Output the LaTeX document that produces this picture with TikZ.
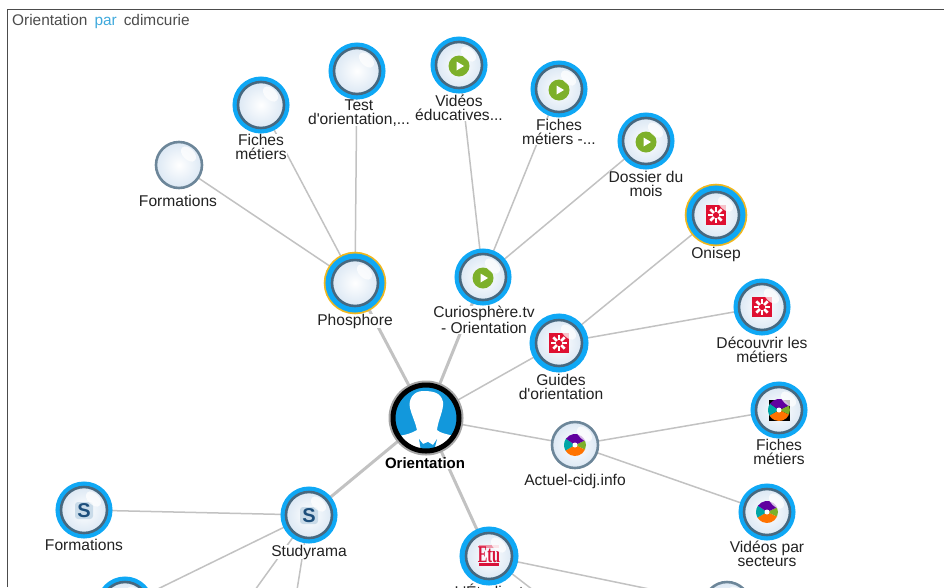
\documentclass[tikz,border=0pt]{standalone}
\usepackage{fontspec}
\setmainfont{Liberation Sans}
\newfontfamily\logofont[FakeStretch=.6]{Liberation Serif}
\usetikzlibrary{backgrounds}
\definecolor{ringblue}{HTML}{0FA8F5}
\definecolor{ringdark}{HTML}{47687F}
\definecolor{ringgold}{HTML}{F0B71E}
\definecolor{spokegray}{HTML}{C2C2C2}
\definecolor{hubblue}{HTML}{1298DC}
\definecolor{inktext}{HTML}{222222}
\definecolor{parblue}{HTML}{3FA9DC}
\definecolor{onisepred}{HTML}{DF1031}
\definecolor{etured}{HTML}{D8123A}
\definecolor{playgreen}{HTML}{7DB02A}
\definecolor{sblue}{HTML}{1D4F7C}
\definecolor{spale}{HTML}{C9DBE9}
\definecolor{bubbleedge}{HTML}{DCE8F4}
\newcommand{\gloss}{\fill[white,opacity=.75] (3.1,-17.4) .. controls (8.3,-22.6) and (21.1,-9.8) .. (15.9,-4.6) .. controls (10.7,0.6) and (-2.1,-12.2) .. (3.1,-17.4) -- cycle;}
\newcommand{\iconplay}{%
	\fill[playgreen] (0,1) circle (10.5);
	\fill[white] (-2.5,-3.5) -- (5,1) -- (-2.5,5.5) -- cycle;}
\newcommand{\icononisep}{%
	\fill[onisepred] (-10,-10) rectangle (10,10);
	\foreach \a in {0,45,...,315}
		\draw[white,line width=2.6pt] (\a:3) -- (\a:8);}
\newcommand{\iconstudy}{%
	\fill[spale,rounded corners=3pt] (-9,-8) rectangle (9,9);
	\node[text=sblue,inner sep=0pt,font=\bfseries\fontsize{20}{20}\selectfont] (studyS) at (0,0.5) {S};}
\newcommand{\iconetu}{%
	\fill[etured!45] (-10,-11) rectangle (10,-8);
	\fill[etured] (-10,7) rectangle (10,10);
	\node[text=etured,inner sep=0pt,font=\logofont\bfseries\fontsize{24}{24}\selectfont] (etuword) at (0,-1) {Etu};}
\newcommand{\iconwheel}{%
	\fill[playgreen] (0,0) -- (-25:11) arc[start angle=-25,end angle=25,radius=11] -- cycle;
	\fill[orange!90!red] (0,0) -- (25:11) arc[start angle=25,end angle=150,radius=11] -- cycle;
	\fill[teal!70!cyan] (0,0) -- (150:11) arc[start angle=150,end angle=215,radius=11] -- cycle;
	\fill[violet!75!blue] (0,0) -- (215:11) arc[start angle=215,end angle=335,radius=11] -- cycle;
	\fill[white] (0,0) circle (2.5);}
\newcommand{\iconwheelbox}{%
	\fill[black] (-10.5,-10.5) rectangle (10.5,10.5);
	\iconwheel}
\tikzset{
	bubble/.style={circle,minimum size=46pt,inner sep=0pt,outer sep=0pt,
		draw=ringdark,line width=2.6pt,inner color=white,outer color=bubbleedge,
		path picture={\begin{scope}[shift={(path picture bounding box.center)}]#1\gloss\end{scope}}},
	ring/.style={preaction={draw=ringblue,line width=11pt}},
	widering/.style={preaction={draw=ringblue,line width=13pt}},
	goldring/.style={preaction={draw=ringgold,line width=16.5pt},preaction={draw=ringblue,line width=13pt}},
	hub/.style={circle,minimum size=66pt,inner sep=0pt,outer sep=0pt,fill=hubblue,
		draw=black,line width=5pt,preaction={draw=gray!70,line width=9pt},
		path picture={\begin{scope}[shift={(path picture bounding box.center)}]\hubicon\end{scope}}},
	caption/.style={align=center,inner sep=0pt,fill=white,text=inktext,
		font=\fontsize{15.6}{14}\selectfont},
	spoke/.style={draw=spokegray,line width=1.5pt},
	mainspoke/.style={draw=spokegray,line width=3pt},
}
\newcommand{\hubicon}{%
	\fill[white] (-3,-27) .. controls (-13,-27) and (-18,-18) .. (-16,-10) .. controls (-14,-2) and (-10,6) .. (-9,12) .. controls (-14,15) and (-20,17) .. (-28,18) -- (-15,36) -- (15,36) -- (28,18) .. controls (20,16) and (14,15) .. (11,12) .. controls (12,2) and (18,-8) .. (17,-16) .. controls (15,-26) and (6,-27) .. (-3,-27) -- cycle;
	\fill[hubblue] (-7,21) -- (-3,26) -- (2,24) -- (7,27) -- (11,21) -- (8,33) -- (-5,33) -- cycle;}
\begin{document}
\begin{tikzpicture}[x=1pt,y=-1pt]
	\useasboundingbox (0,0) rectangle (944,587);
	% frame and title
	\draw[color=black!70,line width=1.5pt] (7.5,587) -- (7.5,9.5) -- (944,9.5);
	\node[anchor=west,inner sep=0pt,text=black!70,font=\fontsize{15.4}{15}\selectfont] (title) at (12,22)
		{Orientation\hspace{7pt}\textcolor{parblue}{par}\hspace{7pt}cdimcurie};
	% labels
	\foreach \name/\x/\y/\txt in {
		lforma/178/201/Formations,
		lfiche/261/147/{Fiches\\métiers},
		ltest/359/113/{Test\\d\textquotesingle orientation,...},
		lvideo/459/108/{Vidéos\\éducatives...},
		lfichetv/559/132/{Fiches\\métiers -...},
		ldossier/646/184/{Dossier du\\mois},
		lonisep/716/254/Onisep,
		lphos/355/321/Phosphore,
		lcurio/484/320/{Curiosphère.tv\\- Orientation},
		lguides/561/387/{Guides\\d\textquotesingle orientation},
		ldecouv/762/350/{Découvrir les\\métiers},
		lfichecidj/779/452/{Fiches\\métiers},
		lactuel/575/481/Actuel-cidj.info,
		lsecteur/767/554/{Vidéos par\\secteurs},
		lstudy/309/552/Studyrama,
		lformb/84/545/Formations,
		letu/489/591/L\textquotesingle Étudiant}
		\node[caption] (\name) at (\x,\y) {\txt};
	\node[caption,font=\bfseries\fontsize{15}{14}\selectfont,text=black] (lhub) at (425,463) {Orientation};
	% first ring
	\node[hub] (hub) at (426,418) {};
	\node[bubble={},goldring] (phos) at (355,283) {};
	\node[bubble=\iconplay,ring] (curio) at (483,277) {};
	\node[bubble=\icononisep,widering] (guides) at (559,343) {};
	\node[bubble=\iconwheel,draw=ringdark!80] (actuel) at (575,445) {};
	\node[bubble=\iconstudy,ring] (study) at (309,515) {};
	\node[bubble=\iconetu,widering] (etu) at (489,556) {};
	% second ring
	\node[bubble={},draw=ringdark!80] (forma) at (179,165) {};
	\node[bubble={},ring] (fiche) at (261,105) {};
	\node[bubble={},ring] (test) at (357,71) {};
	\node[bubble=\iconplay,ring] (video) at (459,65) {};
	\node[bubble=\iconplay,ring] (fichetv) at (559,89) {};
	\node[bubble=\iconplay,ring] (dossier) at (646,141) {};
	\node[bubble=\icononisep,goldring] (onisep) at (716,215) {};
	\node[bubble=\icononisep,ring] (decouv) at (762,307) {};
	\node[bubble=\iconwheelbox,ring] (fichecidj) at (779,410) {};
	\node[bubble=\iconwheel,ring] (secteur) at (767,512) {};
	\node[bubble=\iconstudy,ring] (formb) at (84,510) {};
	\node[bubble={},ring] (studyb) at (125,605) {};
	\node[bubble={},draw=ringdark!80] (etub) at (727,605) {};
	\coordinate (studyc) at (255,590);
	\coordinate (studyd) at (297,590);
	\coordinate (etuc) at (533,590);
	% connectors
	\begin{scope}[on background layer]
		\foreach \a/\b in {hub/phos,hub/curio,hub/study,hub/etu}
			\draw[mainspoke] (\a) -- (\b);
		\foreach \a/\b in {hub/guides,hub/actuel,phos/forma,phos/fiche,phos/test,curio/video,curio/fichetv,curio/dossier,guides/onisep,guides/decouv,actuel/fichecidj,actuel/secteur,study/formb,study/studyb,study/studyc,study/studyd,etu/etub,etu/etuc}
			\draw[spoke] (\a) -- (\b);
	\end{scope}
\end{tikzpicture}
\end{document}
